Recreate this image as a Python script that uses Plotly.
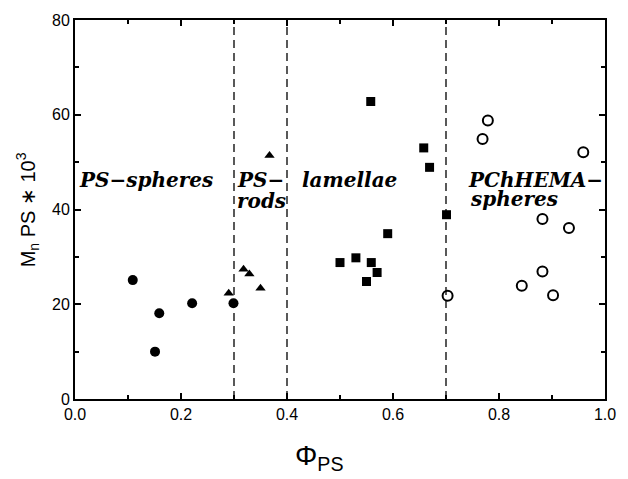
import plotly.graph_objects as go

# PS-spheres (filled circles)
sph_x = [0.109, 0.159, 0.151, 0.221, 0.299]
sph_y = [25.1, 18.1, 10.0, 20.2, 20.2]
# PS-rods (filled triangles)
rod_x = [0.290, 0.318, 0.329, 0.350, 0.367]
rod_y = [22.3, 27.4, 26.4, 23.4, 51.4]
# lamellae (filled squares)
lam_x = [0.558, 0.658, 0.669, 0.701, 0.590, 0.500, 0.530, 0.559, 0.570, 0.550]
lam_y = [62.8, 53.0, 48.9, 38.9, 34.9, 28.8, 29.8, 28.8, 26.7, 24.8]
# PChHEMA-spheres (open circles)
pch_x = [0.779, 0.769, 0.959, 0.882, 0.932, 0.882, 0.843, 0.902, 0.703]
pch_y = [58.8, 54.9, 52.1, 38.0, 36.1, 26.9, 23.9, 21.9, 21.8]

boundaries = [0.3, 0.4, 0.7]
label_lines = ["PS−spheres", "PS−", "rods", "lamellae", "PChHEMA−", "spheres"]
label_x = [0.004, 0.302, 0.302, 0.425, 0.737, 0.741]
label_y = [46.3, 46.3, 41.9, 46.3, 46.3, 42.3]

x_ticks = [0.0, 0.2, 0.4, 0.6, 0.8, 1.0]
y_ticks = [0, 20, 40, 60, 80]

fig = go.Figure()
fig.add_trace(go.Scatter(x=sph_x, y=sph_y, mode="markers",
                         marker=dict(symbol="circle", size=10, color="black")))
fig.add_trace(go.Scatter(x=rod_x, y=rod_y, mode="markers",
                         marker=dict(symbol="triangle-up", size=9, color="black")))
fig.add_trace(go.Scatter(x=lam_x, y=lam_y, mode="markers",
                         marker=dict(symbol="square", size=9, color="black")))
fig.add_trace(go.Scatter(x=pch_x, y=pch_y, mode="markers",
                         marker=dict(symbol="circle-open", size=10, color="black",
                                     line=dict(width=2, color="black"))))

for b in boundaries:
    fig.add_shape(type="line", x0=b, x1=b, y0=0, y1=80, xref="x", yref="y",
                  line=dict(color="black", width=1.3, dash="8px,5px"), layer="below")

for t, x, y in zip(label_lines, label_x, label_y):
    fig.add_annotation(x=x, y=y, xref="x", yref="y", text="<b><i>" + t + "</i></b>",
                       showarrow=False, xanchor="left", yanchor="middle", align="left",
                       font=dict(family="DejaVu Serif", size=20, color="black"))

fig.add_annotation(x=-0.089, y=0.5, xref="paper", yref="paper",
                   text="M<sub>n</sub> PS ∗ 10<sup>3</sup>", textangle=-90,
                   showarrow=False, xanchor="center", yanchor="middle",
                   font=dict(family="Liberation Sans", size=20, color="black"))
fig.add_annotation(x=0.46, y=-0.155, xref="paper", yref="paper",
                   text="Φ<sub>PS</sub>", showarrow=False,
                   xanchor="center", yanchor="middle",
                   font=dict(family="Liberation Sans", size=28, color="black"))

axis_common = dict(showline=True, linecolor="black", linewidth=2, mirror="ticks",
                   ticks="inside", tickcolor="black", showgrid=False, zeroline=False,
                   tickfont=dict(family="Liberation Sans", size=16, color="black"))
fig.update_xaxes(range=[0, 1], tickvals=x_ticks, ticktext=[f"{v:.1f}" for v in x_ticks],
                 ticklen=6, tickwidth=1.5,
                 minor=dict(ticks="inside", dtick=0.1, ticklen=4, tickcolor="black", showgrid=False),
                 **axis_common)
fig.update_yaxes(range=[0, 80], tickvals=y_ticks, ticklen=6, tickwidth=1.5,
                 minor=dict(ticks="inside", dtick=10, ticklen=4, tickcolor="black", showgrid=False),
                 **axis_common)

fig.update_layout(width=628, height=479, showlegend=False,
                  margin=dict(l=75, r=18, t=19, b=80),
                  plot_bgcolor="white", paper_bgcolor="white")
fig.write_html("out.html")
